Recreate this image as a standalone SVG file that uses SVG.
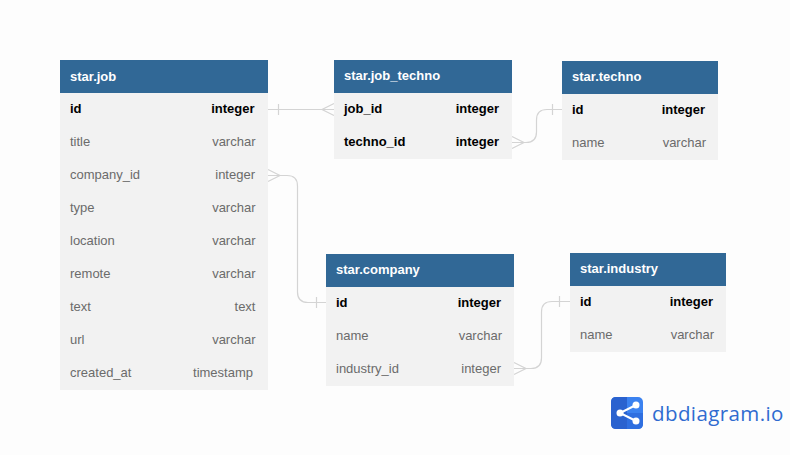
<svg xmlns="http://www.w3.org/2000/svg" width="790" height="455" viewBox="0 0 790 455">
<style>
text{font-family:"Liberation Sans",Arial,sans-serif;font-size:13px}
.body{fill:#f2f2f2}
.head{fill:#316896}
.title{fill:#fff;font-weight:700}
.k{fill:#000;font-weight:700}
.f{fill:#6b6b6b}
.r{text-anchor:end}
#connectors path{fill:none;stroke:#d4d4d4;stroke-width:1.2}
</style>
<rect width="790" height="455" fill="#fdfdfd"/>
<g id="connectors">
<path d="M268 109.500H334M278.500 104V115M334 103.500L322 109.500L334 115.500"/>
<path d="M512 142.500H526Q536.500 142.500 536.500 132V120Q536.500 109.500 547 109.500H562M552.500 104V115M512 136.500L524 142.500L512 148.500"/>
<path d="M268 175.500H287Q297.500 175.500 297.500 186V292Q297.500 302.500 308 302.500H326M316.500 297V308M268 169.500L280 175.500L268 181.500"/>
<path d="M514 368.500H531Q541.500 368.500 541.500 358V312Q541.500 301.500 552 301.500H570M559.500 296V307M514 362.500L526 368.500L514 374.500"/>
</g>
<g id="star-job">
<rect class="body" x="60" y="60" width="208" height="330"/>
<rect class="head" x="60" y="60" width="208" height="33"/>
<text class="title" x="70" y="81">star.job</text>
<text class="k" x="70" y="113">id</text><text class="k r" x="254.500" y="113">integer</text>
<text class="f" x="70" y="146">title</text><text class="f r" x="255.500" y="146">varchar</text>
<text class="f" x="70" y="179">company_id</text><text class="f r" x="255" y="179">integer</text>
<text class="f" x="70" y="212">type</text><text class="f r" x="255.500" y="212">varchar</text>
<text class="f" x="70" y="245">location</text><text class="f r" x="255.500" y="245">varchar</text>
<text class="f" x="70" y="278">remote</text><text class="f r" x="255.500" y="278">varchar</text>
<text class="f" x="70" y="311">text</text><text class="f r" x="255.500" y="311">text</text>
<text class="f" x="70" y="344">url</text><text class="f r" x="255.500" y="344">varchar</text>
<text class="f" x="70" y="377">created_at</text><text class="f r" x="253" y="377">timestamp</text>
</g>
<g id="star-job_techno">
<rect class="body" x="334" y="60" width="178" height="99"/>
<rect class="head" x="334" y="60" width="178" height="33"/>
<text class="title" x="344" y="80">star.job_techno</text>
<text class="k" x="344" y="113">job_id</text><text class="k r" x="499" y="113">integer</text>
<text class="k" x="344" y="146">techno_id</text><text class="k r" x="499" y="146">integer</text>
</g>
<g id="star-techno">
<rect class="body" x="562" y="61" width="156" height="99"/>
<rect class="head" x="562" y="61" width="156" height="33"/>
<text class="title" x="572" y="81">star.techno</text>
<text class="k" x="572" y="114">id</text><text class="k r" x="705" y="114">integer</text>
<text class="f" x="572" y="147">name</text><text class="f r" x="706" y="147">varchar</text>
</g>
<g id="star-company">
<rect class="body" x="326" y="254" width="188" height="132"/>
<rect class="head" x="326" y="254" width="188" height="33"/>
<text class="title" x="336" y="274">star.company</text>
<text class="k" x="336" y="307">id</text><text class="k r" x="501" y="307">integer</text>
<text class="f" x="336" y="340">name</text><text class="f r" x="502" y="340">varchar</text>
<text class="f" x="336" y="373">industry_id</text><text class="f r" x="501" y="373">integer</text>
</g>
<g id="star-industry">
<rect class="body" x="570" y="253" width="156" height="99"/>
<rect class="head" x="570" y="253" width="156" height="33"/>
<text class="title" x="580" y="273">star.industry</text>
<text class="k" x="580" y="306">id</text><text class="k r" x="713" y="306">integer</text>
<text class="f" x="580" y="339">name</text><text class="f r" x="714" y="339">varchar</text>
</g>
<g id="logo">
<rect x="611" y="397" width="32" height="32" rx="5" fill="#3b82f0"/>
<path d="M627 397H616Q611 397 611 402V424Q611 429 616 429H627Z" fill="#2a62cf"/>
<path d="M627 413H643V424Q643 429 638 429H627Z" fill="#2f6fe0"/>
<path d="M636 405L620 413L636 421" fill="none" stroke="#fff" stroke-width="2"/>
<circle cx="636" cy="405" r="3.500" fill="#fff"/><circle cx="620" cy="413" r="3.500" fill="#fff"/><circle cx="636" cy="421" r="3.500" fill="#fff"/>
<text x="652" y="421" style="font-family:'Open Sans',sans-serif;font-size:20.500px;letter-spacing:.4px" fill="#2f6bd0">dbdiagram.io</text>
</g>
</svg>
